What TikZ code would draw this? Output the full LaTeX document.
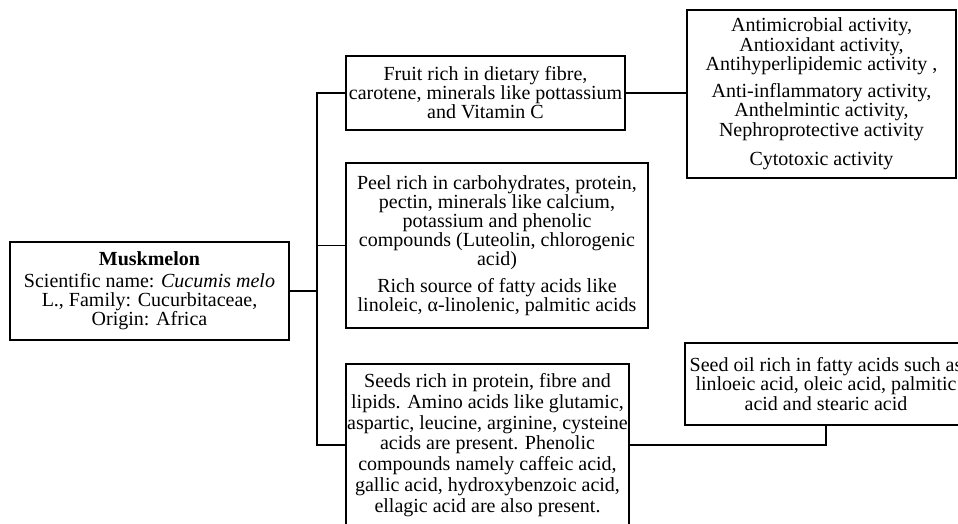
\documentclass[tikz,border=0pt]{standalone}
\usepackage{fontspec}
\setmainfont{Liberation Serif}
\begin{document}
\begin{tikzpicture}[x=1pt,y=-1pt,
  box/.style={draw,line width=1.8pt,rectangle,align=center,inner sep=0pt,font=\fontsize{20}{18}\selectfont},
  conn/.style={line width=1.8pt}]
\useasboundingbox (0,0) rectangle (958,524);
\clip (0,0) rectangle (958,524);
\node[box,minimum width=279pt,minimum height=98pt,font=\fontsize{20}{19}\selectfont] (musk) at (149.5,291)
  {\textbf{Muskmelon}\\[3pt]Scientific name: \textit{Cucumis melo}\\L., Family: Cucurbitaceae,\\Origin: Africa};
\node[box,minimum width=279pt,minimum height=74pt,font=\fontsize{20}{19}\selectfont] (fruit) at (485.5,93)
  {Fruit rich in dietary fibre,\\carotene, minerals like pottassium\\and Vitamin C};
\node[box,minimum width=269pt,minimum height=168pt,font=\fontsize{20}{17.5}\selectfont] (act) at (821.5,94)
  {Antimicrobial activity,\\Antioxidant activity,\\Antihyperlipidemic activity ,\\[8pt]Anti-inflammatory activity,\\Anthelmintic activity,\\Nephroprotective activity\\[11pt]Cytotoxic activity};
\node[box,minimum width=302pt,minimum height=165pt,font=\fontsize{20}{17.5}\selectfont] (peel) at (497,245.5)
  {Peel rich in carbohydrates, protein,\\pectin, minerals like calcium,\\potassium and phenolic\\compounds (Luteolin, chlorogenic\\acid)\\[7pt]Rich source of fatty acids like\\linoleic, α-linolenic, palmitic acids};
\node[box,minimum width=283pt,minimum height=162pt,font=\fontsize{20}{20.8}\selectfont] (seeds) at (487.5,445)
  {Seeds rich in protein, fibre and\\lipids. Amino acids like glutamic,\\aspartic, leucine, arginine, cysteine\\acids are present. Phenolic\\compounds namely caffeic acid,\\gallic acid, hydroxybenzoic acid,\\ellagic acid are also present.};
\node[box,minimum width=282pt,minimum height=82pt,font=\fontsize{20}{18}\selectfont] (oil) at (826,384)
  {Seed oil rich in fatty acids such as\\linloeic acid, oleic acid, palmitic\\acid and stearic acid};
\coordinate (j) at (317,291);
\draw[conn] (musk.east) -- (j);
\draw[conn] (fruit.west) -- (fruit.west -| j) |- (seeds.west);
\draw[conn] (peel.west) -- (peel.west -| j);
\draw[conn] (fruit.east) -- (fruit.east -| act.west);
\draw[conn] (seeds.east) -| (oil.south);
\end{tikzpicture}
\end{document}
